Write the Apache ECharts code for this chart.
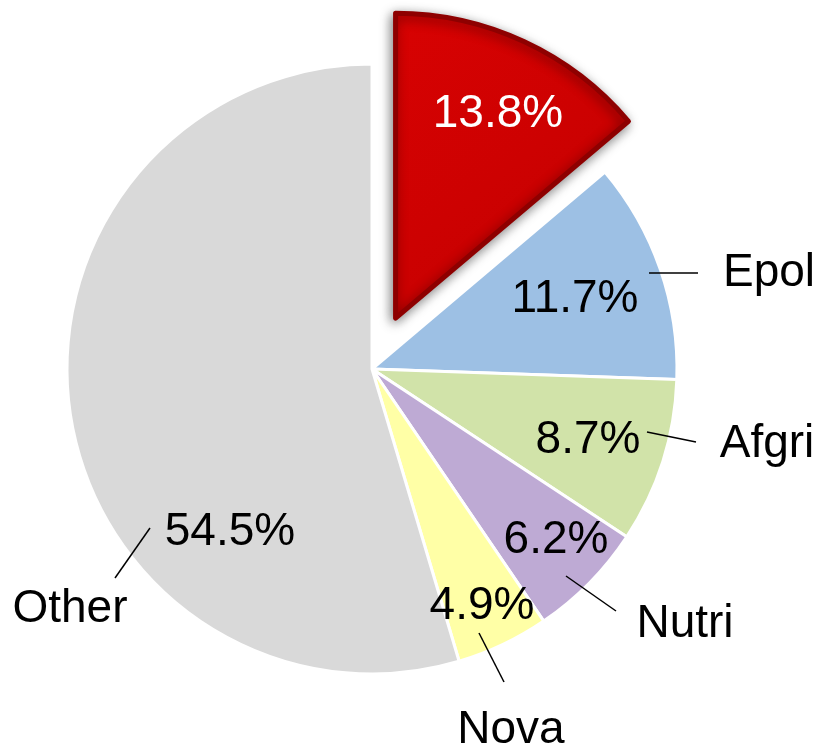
<!DOCTYPE html>
<html>
<head>
<meta charset="utf-8">
<style>
  html, body { margin: 0; padding: 0; background: #fff; }
  #chart { width: 821px; height: 750px; }
</style>
<script src="https://cdn.jsdelivr.net/npm/echarts@6/dist/echarts.min.js"></script>
</head>
<body>
<div id="chart"></div>
<script>
const names = ['', 'Epol', 'Afgri', 'Nutri', 'Nova', 'Other'];
const shares = [13.8, 11.7, 8.7, 6.2, 4.9, 54.5];
const colors = ['#CC0000', '#9DC0E4', '#D1E3A9', '#BEAAD4', '#FFFFA6', '#D9D9D9'];

// where the texts sit, px from the pie centre (Excel "best fit" placement)
const pctSpots = [[126, -255], [203, -70], [216, 71], [184, 171], [110, 237], [-142, 163]];
const nameSpots = [null, [397, -96], [395, 75], [313, 255], [139, 361], [-302, 240]];
// leader lines: [inside the slice, next to the name]
const leaders = [null,
	[[277, -96], [326, -96]],
	[[275, 63], [324, 73]],
	[[194, 207], [244, 242]],
	[[107, 264], [132, 313]],
	[[-222, 159], [-257, 209]]
];

const cx = 372, cy = 369, radius = 305, explode = 56;
const font = 'Liberation Sans, Arial, sans-serif';

const total = shares.reduce((a, b) => a + b, 0);
// pull the first slice out along its middle angle
const midAngle = (90 - shares[0] / total * 180) * Math.PI / 180;
const rx = cx + explode * Math.cos(midAngle);
const ry = cy - explode * Math.sin(midAngle);

const chart = echarts.init(document.getElementById('chart'));

const pctLabel = {
	show: true,
	position: 'inside',
	formatter: p => p.value.toFixed(1) + '%',
	fontFamily: font,
	fontSize: 46,
	color: '#000'
};

const hidden = {
	itemStyle: { color: 'rgba(0,0,0,0)', borderWidth: 0, shadowBlur: 0 },
	label: { show: false },
	labelLine: { show: false }
};

const mainData = shares.map((v, i) => {
	if (i === 0) return Object.assign({ name: 'red', value: v }, hidden);
	return { name: names[i], value: v, itemStyle: { color: colors[i] } };
});

const redData = [
	{
		name: 'red',
		value: shares[0],
		itemStyle: {
			color: new echarts.graphic.LinearGradient(0, 0, 1, 1, [
				{ offset: 0, color: '#D80202' },
				{ offset: 1, color: '#C20000' }
			]),
			borderColor: '#8E0000',
			borderWidth: 5,
			shadowBlur: 12,
			shadowColor: 'rgba(0,0,0,0.45)',
			shadowOffsetX: -2,
			shadowOffsetY: 3
		},
		label: { color: '#fff' }
	},
	Object.assign({ name: 'rest', value: total - shares[0] }, hidden)
];

const nameData = shares.map((v, i) => {
	const item = { name: names[i], value: v };
	if (i === 0) {
		item.label = { show: false };
		item.labelLine = { show: false };
	}
	return item;
});

const option = {
	animation: false,
	series: [
		{
			type: 'pie',
			center: [cx, cy],
			radius: radius,
			startAngle: 90,
			silent: true,
			itemStyle: { borderColor: '#fff', borderWidth: 3 },
			label: pctLabel,
			labelLine: { show: false },
			labelLayout: p => {
				const s = pctSpots[p.dataIndex];
				return { x: cx + s[0], y: cy + s[1], align: 'center', verticalAlign: 'middle' };
			},
			emphasis: { disabled: true },
			data: mainData
		},
		{
			// the exploded slice
			type: 'pie',
			center: [rx, ry],
			radius: radius,
			startAngle: 90,
			silent: true,
			label: pctLabel,
			labelLine: { show: false },
			labelLayout: p => {
				if (p.dataIndex !== 0) return {};
				const s = pctSpots[0];
				return { x: cx + s[0], y: cy + s[1], align: 'center', verticalAlign: 'middle' };
			},
			emphasis: { disabled: true },
			data: redData
		},
		{
			// invisible copy that carries the names and their leader lines
			type: 'pie',
			z: 10,
			center: [cx, cy],
			radius: radius,
			startAngle: 90,
			silent: true,
			avoidLabelOverlap: false,
			itemStyle: { color: 'rgba(0,0,0,0)', borderWidth: 0 },
			label: {
				show: true,
				position: 'outside',
				formatter: '{b}',
				fontFamily: font,
				fontSize: 46,
				color: '#000',
				overflow: 'none'
			},
			labelLine: {
				show: true,
				length: 10,
				length2: 0,
				lineStyle: { color: '#000', width: 1.5 }
			},
			labelLayout: p => {
				const s = nameSpots[p.dataIndex];
				if (!s) return {};
				const l = leaders[p.dataIndex];
				const a = [cx + l[0][0], cy + l[0][1]];
				const b = [cx + l[1][0], cy + l[1][1]];
				return {
					x: cx + s[0], y: cy + s[1], align: 'center', verticalAlign: 'middle',
					labelLinePoints: [a, b, b]
				};
			},
			emphasis: { disabled: true },
			data: nameData
		}
	]
};

chart.setOption(option);
</script>
</body>
</html>
